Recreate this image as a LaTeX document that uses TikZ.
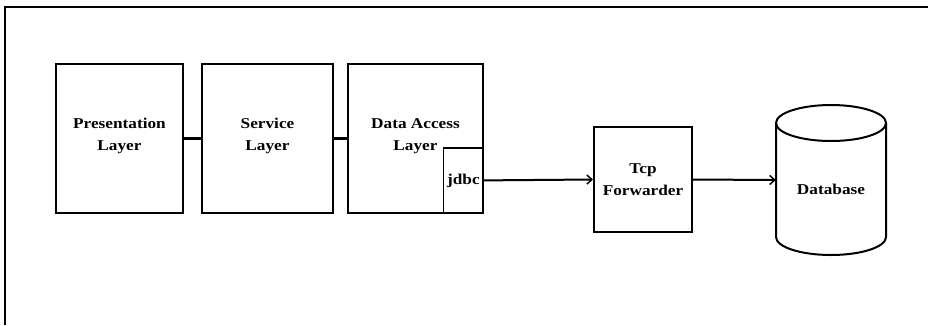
\documentclass[tikz,border=0pt]{standalone}
\usepackage{fontspec}
\setmainfont[FakeStretch=1.15]{Liberation Serif}
\usetikzlibrary{arrows.meta}
\tikzset{
  layerbox/.style={draw, line width=2pt, inner sep=0pt, align=center,
    font=\fontsize{15}{22}\selectfont\bfseries},
  lbl/.style={font=\fontsize{15}{22}\selectfont\bfseries, align=center, inner sep=0pt},
  thickconn/.style={line width=3pt},
  conn/.style={line width=2pt, -{Straight Barb[length=5pt,width=9pt,line width=1.5pt]}},
  frame/.style={line width=2pt}
}
\begin{document}
\begin{tikzpicture}[x=1pt,y=-1pt]
\useasboundingbox (0,0) rectangle (928,325);
% frame
\draw[frame] (928,7) -- (5,7) -- (5,325);
% layer boxes
\node[layerbox, minimum width=127pt, minimum height=149pt] (pres) at (119.5,138) {};
\node[lbl] (prest) at (119.5,136) {Presentation\\Layer};
\node[layerbox, minimum width=131pt, minimum height=149pt] (serv) at (267.5,138) {};
\node[lbl] (servt) at (267.5,136) {Service\\Layer};
\node[layerbox, minimum width=135pt, minimum height=149pt] (dal) at (415.5,138) {};
\node[lbl] (dalt) at (415.5,136) {Data Access\\Layer};
% jdbc box
\node[draw, line width=1.2pt, minimum width=40pt, minimum height=65pt, inner sep=0pt,
  anchor=south east] (jdbc) at (dal.south east) {};
\node[lbl] (jdbct) at (jdbc.center) {jdbc};
% tcp forwarder
\node[layerbox, minimum width=98pt, minimum height=105pt] (tcp) at (643,179.5) {};
\node[lbl] (tcpt) at (643,180) {Tcp\\Forwarder};
% database cylinder
\node[minimum width=110pt, minimum height=150pt, inner sep=0pt] (db) at (831,180) {};
\draw[line width=2pt] (776,123) -- (776,237) arc (180:360:55pt and 18pt) -- (886,123);
\draw[line width=2pt] (831,123) ellipse (55pt and 18pt);
\node[lbl] (dbt) at (831,189) {Database};
% connectors
\draw[thickconn] (pres.east |- 0,138) -- (serv.west |- 0,138);
\draw[thickconn] (serv.east |- 0,138) -- (dal.west |- 0,138);
\draw[conn] (jdbc.east) -- (tcp.west);
\draw[conn] (tcp.east) -- (db.west);
\end{tikzpicture}
\end{document}
